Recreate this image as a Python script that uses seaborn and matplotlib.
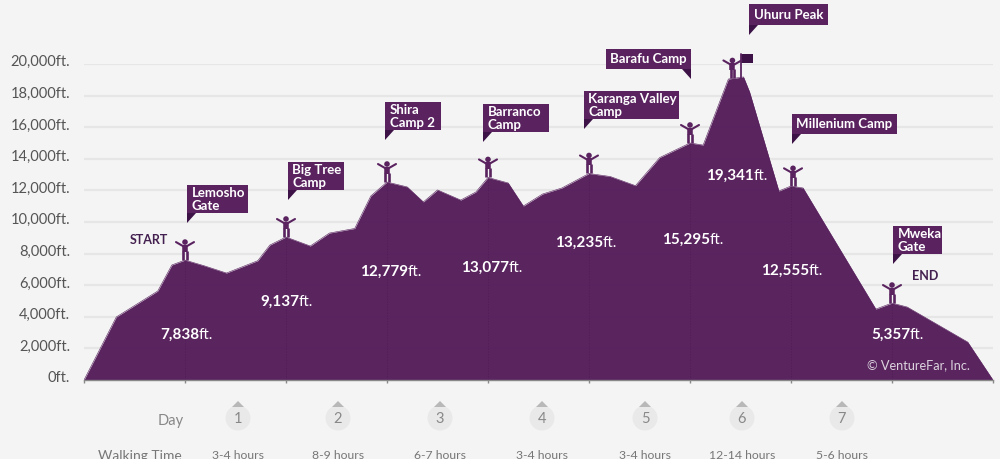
import matplotlib
matplotlib.use("Agg")
import matplotlib.pyplot as plt
from matplotlib.patches import Polygon, Rectangle, Circle
from matplotlib.transforms import Affine2D, ScaledTranslation
import numpy as np
import pandas as pd
import seaborn as sns

# route profile, x = stage along the trek, y = elevation in feet
stage_pos = [0, 0.32, 0.73, 0.87, 1, 1.19, 1.41, 1.72, 1.84, 2, 2.24, 2.43, 2.68, 2.84, 3, 3.2, 3.36, 3.5, 3.73, 3.88,
             4, 4.2, 4.35, 4.54, 4.73, 5, 5.21, 5.46, 5.7, 6, 6.13, 6.38, 6.53, 6.59, 6.88, 7, 7.12, 7.84, 8, 8.15, 8.75, 9]
elevation = [0, 3990, 5630, 7280, 7590, 7230, 6770, 7550, 8540, 9050, 8480, 9300, 9590, 11650, 12530, 12220, 11270, 12030, 11390, 11900,
             12820, 12470, 11010, 11770, 12150, 13070, 12880, 12300, 14080, 15000, 14870, 19050, 19180, 18230, 11960, 12280, 12150, 4490, 4870, 4620, 2400, 0]

y_ticks = [0, 2000, 4000, 6000, 8000, 10000, 12000, 14000, 16000, 18000, 20000]
y_labels = ["0ft.", "2,000ft.", "4,000ft.", "6,000ft.", "8,000ft.", "10,000ft.",
            "12,000ft.", "14,000ft.", "16,000ft.", "18,000ft.", "20,000ft."]

camp_names = ["Lemosho\nGate", "Big Tree\nCamp", "Shira\nCamp 2", "Barranco\nCamp", "Karanga Valley\nCamp",
              "Barafu Camp", "Uhuru Peak", "Millenium Camp", "Mweka\nGate"]
camp_heights = ["7,838", "9,137", "12,779", "13,077", "13,235", "15,295", "19,341", "12,555", "5,357"]
hiker_stages = [1, 2, 3, 4, 5, 6, 6.42, 7.02, 8]
days = ["1", "2", "3", "4", "5", "6", "7"]
walking = ["3-4 hours", "8-9 hours", "6-7 hours", "3-4 hours", "3-4 hours", "12-14 hours", "5-6 hours"]

PURPLE = "#5a2360"
DARK = "#3c1247"
BG = "#f4f4f4"

sns.set_theme(style="white")
plt.rcParams["font.family"] = ["Lato", "DejaVu Sans"]

fig = plt.figure(figsize=(10, 4.6), dpi=100, facecolor=BG)
ax = fig.add_axes([84 / 1000, (460 - 381) / 460, 909 / 1000, 316 / 460], facecolor="none")

df = pd.DataFrame({"stage": stage_pos, "elevation": elevation})
ax.fill_between(df["stage"], df["elevation"], 0, color="#57205d", alpha=0.985, lw=0, zorder=2)
sns.lineplot(data=df, x="stage", y="elevation", sort=False, estimator=None, color="#57205d", lw=0.4, ax=ax, zorder=2)

ax.set_xlim(0, 9)
ax.set_ylim(0, 20000)
ax.set_xlabel("")
ax.set_ylabel("")
ax.set_xticks(range(10))
ax.set_xticklabels([])
ax.set_yticks(y_ticks)
ax.set_yticklabels(y_labels, fontsize=10.5, color="#555555")
ax.tick_params(axis="y", length=0, pad=10)
ax.tick_params(axis="x", length=2.5, width=1, color="#888888", bottom=True)
for lab in ax.get_yticklabels():
    lab.set_transform(lab.get_transform() + ScaledTranslation(0, 3 / 72, fig.dpi_scale_trans))
ax.grid(axis="y", color="#e6e6e6", lw=1.6, zorder=0)
ax.set_axisbelow(True)
for s in ["top", "left", "right"]:
    ax.spines[s].set_visible(False)
ax.spines["bottom"].set_color("#888888")
ax.spines["bottom"].set_linewidth(1)
ax.spines["bottom"].set_zorder(4)

# faint dotted lines under each camp
for i in range(1, 9):
    ax.vlines(i, 0, np.interp(i, stage_pos, elevation), color="#4f1c56", lw=0.5, ls=(0, (2, 2)), zorder=3)

# everything below is placed in image pixels, origin top left
px = Affine2D().scale(1, -1).translate(0, 460)


def add_text(x, y, s, **kw):
    fig.text(x, y, s, transform=px, **kw)


# callout flags
boxes = [(187, 186, 248, 214), (288, 163, 344, 191), (385, 103, 441, 131), (483, 105, 549, 133), (584, 92, 679, 120),
         (606, 50, 691, 70), (749, 5, 828, 26), (792, 115, 897, 135), (893, 227, 942, 255)]
for i, (name, (x0, y0, x1, y1)) in enumerate(zip(camp_names, boxes)):
    fig.add_artist(Rectangle((x0, y0), x1 - x0, y1 - y0, color=PURPLE, lw=0, transform=px))
    if name == "Barafu Camp":
        tail = [(x1, y1), (x1 - 9, y1), (x1, y1 + 10)]
    else:
        tail = [(x0, y1), (x0 + 9, y1), (x0, y1 + 10)]
    fig.add_artist(Polygon(tail, color=DARK, lw=0, transform=px))
    add_text(x0 + 4.5, (y0 + y1) / 2 - 0.5, name, color="white", fontsize=9.5, fontweight="bold",
             va="center", ha="left", linespacing=1.02)

# little hikers on each camp
trans = ax.transData
for st in hiker_stages:
    foot = trans.transform((st, np.interp(st, stage_pos, elevation)))
    x, y = foot[0], 460 - foot[1]
    fig.add_artist(plt.Line2D([x - 9, x - 2, x + 2, x + 9], [y - 18, y - 14, y - 14, y - 18], color=PURPLE, lw=1.5, transform=px))
    fig.add_artist(plt.Line2D([x, x], [y - 15, y - 8], color=PURPLE, lw=4.0, solid_capstyle="butt", transform=px))
    fig.add_artist(plt.Line2D([x - 1.6, x - 1.6], [y - 9, y], color=PURPLE, lw=1.9, solid_capstyle="butt", transform=px))
    fig.add_artist(plt.Line2D([x + 1.6, x + 1.6], [y - 9, y], color=PURPLE, lw=1.9, solid_capstyle="butt", transform=px))
    fig.add_artist(Circle((x, y - 18), 2.8, color=PURPLE, lw=0, transform=px))

# flag on the summit
fig.add_artist(plt.Line2D([741, 741], [79, 55], color=PURPLE, lw=1.3, transform=px))
fig.add_artist(Polygon([(741, 55), (753, 55), (753, 64), (741, 64)], color=DARK, lw=0, transform=px))

# elevation labels, bold number and regular unit
height_spots = [(199, 335), (299, 302), (408, 272), (509, 268), (603, 243), (710, 240), (754, 176), (809, 271), (910, 335)]
for h, (x, y) in zip(camp_heights, height_spots):
    add_text(x, y, h, color="white", fontsize=11, fontweight="bold", ha="right", va="center")
    add_text(x, y, "ft.", color="white", fontsize=11, ha="left", va="center")

add_text(149, 240, "START", color="#43204f", fontsize=9, fontweight="bold", ha="center", va="center")
add_text(925, 276, "END", color="#43204f", fontsize=9, fontweight="bold", ha="center", va="center")
add_text(918, 365, "© VentureFar, Inc.", color="#dcd3de", fontsize=9.2, ha="center", va="center")

# day row
day_x = [238, 338, 440, 542, 645, 742, 842]
add_text(171, 421, "Day", color="#888888", fontsize=10.5, ha="center", va="center")
add_text(182, 456, "Walking Time", color="#777777", fontsize=10, ha="right", va="center")
for d, w, x in zip(days, walking, day_x):
    fig.add_artist(Circle((x, 419), 12.5, color="#e9e9e9", lw=0, transform=px))
    fig.add_artist(Polygon([(x - 6, 408), (x + 6, 408), (x, 402)], color="#b8b8b8", lw=0, transform=px))
    add_text(x, 419, d, color="#888888", fontsize=10.5, ha="center", va="center")
    add_text(x, 456, w, color="#777777", fontsize=8.8, ha="center", va="center")

fig.savefig("out.png", dpi=100, facecolor=BG)
